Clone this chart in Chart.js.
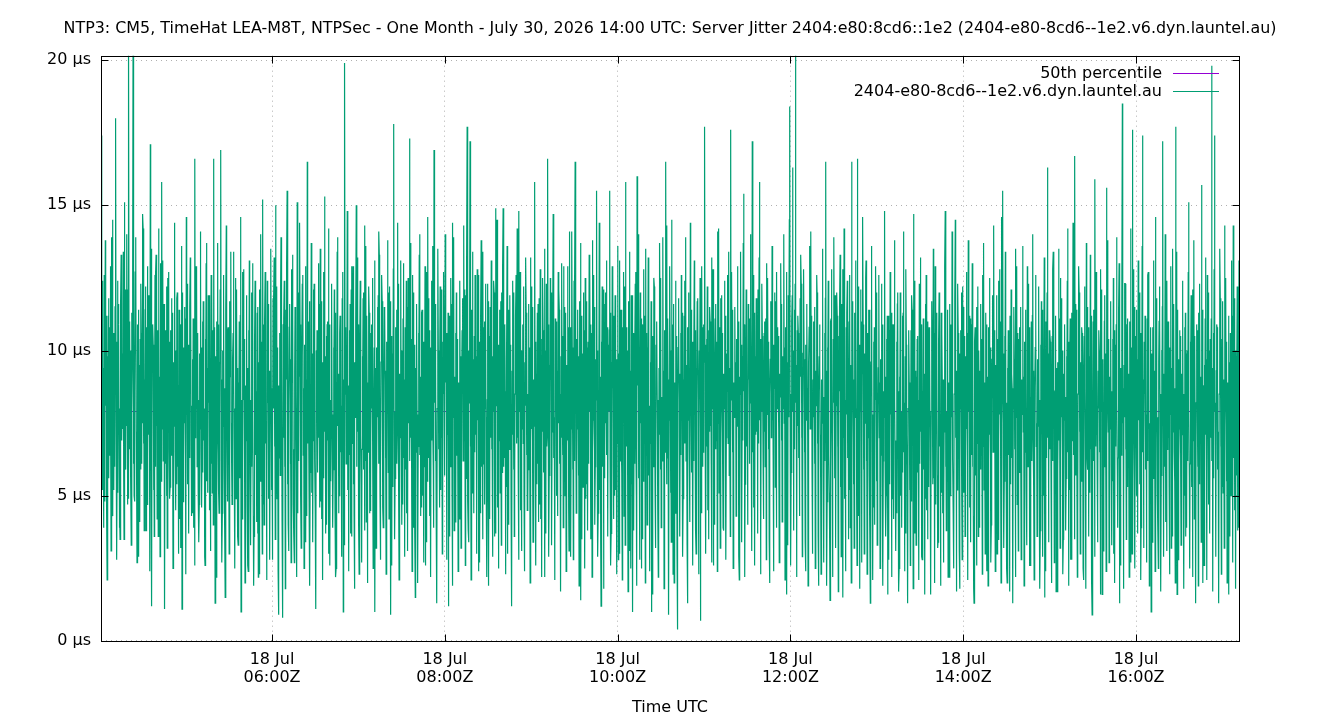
<!DOCTYPE html>
<html><head><meta charset="utf-8">
<script src="https://cdn.jsdelivr.net/npm/chart.js@4/dist/chart.umd.min.js"></script>
<style>html,body{margin:0;padding:0;background:#fff;}#wrap{width:1340px;height:720px;}</style>
</head><body><div id="wrap"><canvas id="c" width="1340" height="720"></canvas></div>
<script>
const titleText = "NTP3: CM5, TimeHat LEA-M8T, NTPSec - One Month - July 30, 2026 14:00 UTC: Server Jitter 2404:e80:8cd6::1e2 (2404-e80-8cd6--1e2.v6.dyn.launtel.au)";
const xAxisTitle = "Time UTC";
const seriesLabel = "2404-e80-8cd6--1e2.v6.dyn.launtel.au";
const medianLabel = "50th percentile";
const medianValue = 7.9;
// x = minutes since 18 Jul 00:00 UTC; first sample 04:01:30.
// jitterValues: samples at +0s, +15s, +30s of every minute (3 per minute)
// jitterValuesLate: the sample at +45s of every minute
const startMinute = 241.5;
const jitterValues = [
17.4,6.3,10.1,5.2,9.4,7.0,12.6,4.8,8.9,8.1,11.2,6.5,2.1,9.8,7.3,11.8,5.6,10.4,6.4,12.9,8.2,13.9,7.1,4.4,4.3,10.6,8.7,9.7,6.0,11.5,
18.0,7.6,10.3,6.8,12.4,5.1,10.9,8.0,3.9,3.5,9.2,11.7,12.2,6.9,8.5,7.3,13.4,5.8,15.1,8.8,6.2,5.9,10.5,7.4,9.4,4.7,12.1,20.5,8.3,6.6,
7.7,10.0,5.4,11.3,7.9,9.6,20.5,6.1,11.0,4.8,8.6,12.7,13.6,7.2,5.3,8.8,10.9,6.4,2.9,9.5,7.8,10.4,5.9,12.3,6.1,9.0,7.5,14.2,6.8,10.2,
9.0,5.7,11.4,3.8,10.8,7.0,12.9,6.3,9.3,7.1,11.9,4.6,17.1,8.2,6.7,1.2,9.7,10.5,10.2,5.2,8.0,8.4,12.6,6.0,13.3,7.4,9.9,5.6,10.7,3.6,
11.7,6.9,9.1,7.9,13.0,5.5,15.8,7.3,10.4,6.2,9.4,11.6,1.1,8.7,6.1,9.9,5.0,12.2,12.5,7.7,8.9,6.6,10.3,4.9,10.7,8.1,6.4,8.2,11.3,7.0,
4.6,9.6,7.4,13.1,6.5,10.0,9.3,5.4,11.8,6.0,8.8,7.1,11.4,4.2,9.0,3.2,10.6,6.8,1.1,8.4,12.0,10.1,6.2,8.6,7.5,11.1,5.3,14.6,7.8,9.5,
5.4,10.2,7.6,9.8,6.3,11.5,12.0,8.1,5.6,6.9,9.7,4.4,3.9,8.5,10.8,16.6,7.0,9.2,8.0,12.4,6.0,10.6,5.1,8.3,4.7,9.9,7.3,12.8,6.6,10.1,
7.2,11.0,5.8,9.1,6.9,8.0,2.6,10.4,7.5,13.7,5.5,9.4,6.5,11.9,8.2,10.3,4.5,7.7,8.6,12.6,6.1,5.1,9.3,10.7,16.6,6.8,8.8,1.3,9.8,7.0,
11.0,6.4,8.5,7.0,10.9,5.2,9.6,7.8,12.1,16.9,6.2,9.0,4.4,10.0,7.4,12.3,5.9,8.7,1.5,9.5,11.4,8.9,6.7,4.8,10.8,8.1,7.2,6.3,11.7,9.1,
13.4,7.5,5.9,5.0,9.7,10.6,9.2,6.6,8.0,7.6,12.5,4.9,11.9,7.1,9.4,3.3,8.9,6.5,10.0,5.6,11.2,1.0,8.3,7.0,12.7,6.1,9.8,8.3,10.4,5.3,
5.3,8.8,6.9,11.2,4.6,9.4,2.4,10.7,7.2,9.5,5.8,8.3,7.4,12.0,6.0,13.0,7.7,4.3,3.6,9.1,10.2,10.5,6.4,8.6,6.0,11.3,3.7,2.2,8.0,9.6,
12.1,5.5,7.9,7.8,10.3,6.2,15.2,8.4,4.7,4.0,9.9,11.1,9.0,6.8,7.5,5.7,12.4,8.2,11.6,4.9,9.3,2.8,7.6,10.5,8.7,5.2,6.6,6.4,11.8,8.0,
13.2,6.7,9.7,15.0,7.3,5.1,4.9,10.1,8.4,0.9,8.8,6.3,10.4,5.7,12.2,7.1,9.5,4.1,0.8,10.9,7.0,12.4,6.0,8.5,6.8,11.4,9.0,15.5,5.4,7.8,
3.1,8.2,10.8,9.7,6.1,7.4,5.5,12.8,8.9,11.1,4.7,6.6,2.7,9.3,11.5,8.5,5.9,7.2,15.1,8.0,4.4,6.2,10.6,9.1,10.9,6.9,5.0,4.5,9.8,12.3,
12.6,6.4,8.7,7.3,10.2,5.3,3.4,9.0,7.6,16.5,6.8,10.4,8.1,4.9,11.7,5.8,8.6,7.0,11.5,5.1,9.9,6.9,12.1,8.3,9.4,6.2,4.6,1.1,10.0,7.7,
10.6,5.8,8.4,7.0,11.6,6.3,13.5,8.0,4.8,4.2,9.6,7.5,9.1,12.7,5.6,15.3,7.2,9.8,6.5,10.5,4.0,11.0,6.9,8.2,3.0,9.4,10.9,8.3,5.5,7.1,
12.3,7.8,6.0,5.9,10.1,8.6,9.8,4.5,11.3,2.5,8.9,6.7,13.9,7.4,9.2,7.6,5.0,10.6,10.2,6.5,8.1,4.6,11.8,7.0,1.0,9.0,6.2,19.9,8.5,10.4,
6.1,9.3,7.3,11.8,5.2,8.8,8.0,10.7,6.4,3.7,9.5,12.1,12.9,6.8,7.9,5.4,10.0,4.3,9.6,7.7,11.0,15.0,6.0,8.4,7.2,10.9,5.7,2.3,8.6,9.9,
10.7,7.1,5.4,6.6,9.8,8.3,12.0,5.9,10.3,14.3,7.6,6.2,4.1,11.2,8.9,8.8,6.5,9.7,11.3,4.4,7.8,5.2,10.6,8.0,9.0,12.5,6.9,3.5,8.2,10.1,
1.0,7.9,9.4,10.1,5.6,8.5,7.7,11.9,6.1,13.3,8.7,5.0,6.0,9.6,10.8,11.7,7.0,4.6,4.8,8.9,11.5,9.3,6.3,7.5,2.9,10.3,8.1,8.6,5.8,12.0,
12.2,6.7,9.0,0.9,8.4,10.5,9.9,5.3,7.6,17.8,7.9,4.9,5.6,10.8,8.3,11.4,6.1,9.5,7.4,12.3,5.7,3.2,9.2,7.0,13.1,6.6,10.0,8.2,4.7,11.1,
6.3,9.0,7.7,10.8,5.9,8.1,4.4,11.5,6.8,12.5,7.5,9.9,17.3,6.2,8.7,7.0,10.4,5.1,9.5,12.6,7.3,3.9,8.6,10.2,1.5,9.4,6.5,11.6,7.8,5.4,
6.7,10.6,8.0,14.0,6.4,9.1,8.4,4.6,11.3,5.0,9.7,7.2,10.3,6.0,8.6,2.6,10.9,7.5,12.7,5.5,9.3,7.9,11.8,6.3,4.3,8.8,10.1,9.2,6.9,12.4,
13.6,7.4,5.9,16.9,8.2,10.7,6.2,9.5,4.5,1.3,8.0,11.0,10.0,6.6,7.8,8.7,12.2,5.2,12.1,7.0,9.4,4.9,10.3,8.5,9.7,5.7,6.8,13.0,8.9,10.6,
5.8,9.9,7.1,1.2,8.3,10.2,11.2,6.0,8.7,7.5,11.6,5.3,14.4,7.7,9.6,3.8,9.1,6.4,10.6,5.0,12.0,6.4,10.4,8.0,8.9,6.8,4.2,12.4,7.3,9.8,
4.0,8.6,10.7,9.4,6.2,7.5,6.9,12.1,8.8,11.9,5.6,9.3,17.7,7.0,4.8,3.4,10.0,8.2,17.2,6.7,9.0,8.0,11.4,5.1,5.3,9.7,7.4,10.5,6.5,12.6,
7.1,9.8,5.7,12.8,7.6,8.5,2.4,10.3,6.8,9.0,4.4,11.2,6.0,8.9,7.3,13.4,6.1,9.6,4.7,11.0,8.0,10.9,5.4,7.7,8.3,12.3,6.4,1.9,9.2,10.5,
11.5,7.0,8.4,6.6,10.6,5.2,9.8,7.9,12.4,3.6,9.0,6.3,14.9,8.1,10.0,7.4,4.6,9.5,10.2,6.9,8.6,5.1,11.7,7.2,12.0,5.8,9.1,14.9,7.5,6.0,
6.3,10.9,8.2,8.6,5.3,9.7,3.0,8.8,11.4,11.1,6.6,7.4,7.8,10.2,4.9,1.2,9.3,7.1,9.6,5.9,12.0,5.5,8.5,10.4,12.6,6.8,8.0,7.0,11.3,5.6,
14.8,7.9,9.4,4.5,10.5,6.2,10.0,7.3,8.7,6.8,12.2,5.0,2.7,9.6,8.1,11.3,6.4,10.8,8.5,4.8,7.6,5.9,10.1,9.0,13.2,6.9,8.3,7.3,11.5,5.5,
3.9,9.0,7.4,15.8,6.0,10.3,9.2,5.4,8.1,6.1,11.6,7.8,11.8,8.6,4.7,4.2,9.9,6.5,10.4,7.2,12.5,7.7,5.8,9.4,2.2,10.0,8.3,12.3,6.7,7.0,
16.6,8.4,10.9,5.7,9.5,6.9,9.0,12.0,5.2,7.2,8.0,10.6,13.0,6.3,7.7,3.3,11.1,8.8,10.7,5.0,9.3,6.5,12.7,7.5,11.4,6.1,8.5,1.7,9.8,7.0,
8.8,6.4,10.5,12.9,7.7,5.5,5.0,9.2,11.3,9.5,6.7,8.2,6.9,10.8,4.6,14.1,8.0,9.6,2.9,7.3,10.2,10.1,5.9,8.7,7.6,12.4,6.2,16.5,7.9,9.1,
4.6,10.4,7.3,8.4,5.7,9.8,11.7,6.6,8.0,1.4,9.4,11.2,9.9,7.0,5.3,6.2,10.7,8.6,12.5,7.4,4.9,5.4,9.0,10.1,10.3,6.1,7.8,7.9,12.8,8.4,
3.5,8.9,10.6,13.8,6.5,7.6,8.2,11.5,5.8,6.0,9.7,8.3,15.5,7.1,10.0,4.4,8.6,6.4,11.0,5.2,9.1,1.2,10.3,7.7,9.3,6.0,12.1,7.1,8.8,5.6,
12.0,7.5,9.0,6.4,10.8,5.5,10.2,7.9,8.4,15.5,6.3,11.3,3.7,9.6,7.1,8.7,12.6,6.0,11.2,5.0,8.2,5.2,10.1,7.4,9.7,6.8,11.0,2.8,8.5,9.9,
13.1,6.2,8.6,7.0,11.4,5.8,10.8,7.6,9.5,4.3,8.1,12.2,15.8,6.9,7.3,6.7,10.0,4.8,9.1,11.7,8.0,3.1,9.3,6.5,11.9,5.4,7.8,1.0,10.6,8.9,
8.0,6.1,9.9,12.7,7.2,5.0,16.0,8.8,10.4,5.6,9.1,6.6,9.4,12.0,7.5,2.5,8.3,10.9,10.6,5.5,7.0,7.3,11.2,8.6,13.5,6.4,9.2,4.0,10.1,7.7,
11.0,5.7,8.1,6.8,9.6,7.3,1.0,8.7,10.5,9.8,6.0,11.9,12.2,7.8,5.2,5.3,10.2,8.9,8.3,6.6,4.5,3.4,9.4,7.1,10.9,5.9,12.5,7.5,8.4,6.2,
13.9,7.4,9.3,4.8,10.7,6.5,16.5,8.0,5.4,6.3,11.1,9.0,0.9,7.6,10.3,10.0,5.1,8.5,14.5,7.0,6.1,2.3,9.7,11.6,8.9,6.7,4.4,6.0,10.5,8.2,
0.4,8.3,10.1,11.6,7.0,9.2,7.8,10.6,6.4,9.6,8.1,11.3,4.9,9.0,7.4,12.4,6.8,10.0,6.2,9.5,8.7,1.3,10.8,7.6,10.4,6.5,9.1,14.4,7.9,8.5,
5.8,10.3,8.0,8.6,6.2,9.8,11.3,7.5,10.7,3.0,9.4,8.2,9.2,11.8,6.9,7.1,10.0,8.8,0.7,9.1,7.3,12.9,8.4,6.0,6.5,10.9,9.6,17.7,7.7,10.2,
8.1,10.4,6.7,4.5,9.3,8.5,10.7,7.2,11.5,7.4,9.9,6.1,13.2,8.0,10.5,2.6,9.0,7.8,9.5,11.1,6.6,6.9,8.7,10.3,14.1,7.5,9.4,5.1,10.8,8.2,
11.8,7.1,9.7,8.4,10.6,6.4,3.8,9.2,8.0,10.1,7.6,11.2,7.0,9.9,8.6,12.6,6.8,10.0,5.7,9.4,7.3,17.6,8.3,10.7,9.0,6.5,11.4,4.2,8.9,7.7,
11.5,8.1,9.6,6.6,10.4,7.4,8.8,11.0,6.2,2.1,9.1,8.5,13.4,7.0,10.2,7.7,9.8,6.9,15.4,8.6,10.9,5.4,9.3,7.9,10.3,6.7,8.4,8.0,11.6,9.0,
6.1,9.5,8.2,11.0,7.4,10.1,17.2,8.6,6.5,4.6,9.9,11.3,9.8,7.1,8.0,7.2,10.7,9.2,12.1,6.8,8.8,15.8,7.6,10.4,3.4,9.0,7.9,10.5,8.3,6.3,
8.3,10.6,7.2,6.0,9.4,11.1,13.0,7.8,8.9,9.1,6.6,10.3,2.0,8.5,9.7,11.4,7.0,8.1,7.6,10.9,6.4,10.2,8.7,9.3,5.3,11.7,7.5,12.7,8.0,9.9,
8.9,10.5,7.3,4.1,9.2,8.4,10.8,6.9,11.6,6.7,9.8,8.0,14.0,7.5,10.1,7.9,10.8,6.2,1.6,8.8,9.6,11.9,7.7,10.3,18.4,8.5,6.8,5.8,9.4,11.0,
16.3,7.9,10.0,9.3,11.4,6.6,20.5,8.2,9.5,3.6,10.7,7.4,10.6,6.3,8.6,7.3,11.8,9.1,12.3,7.0,8.3,5.0,9.9,10.4,9.7,6.5,8.0,2.4,10.2,7.6,
11.1,8.7,6.9,6.4,9.6,10.8,13.6,7.3,8.4,8.2,11.2,5.9,4.4,9.0,7.7,10.0,6.1,11.5,7.0,9.3,8.1,12.0,6.8,10.3,1.9,8.6,9.8,9.4,7.1,5.5,
6.3,9.0,7.5,11.7,5.8,8.4,8.0,10.6,6.2,16.5,7.0,9.3,4.8,10.1,8.7,10.3,6.4,5.1,1.4,8.9,11.0,12.8,7.6,6.0,7.1,10.4,8.2,9.6,5.6,11.9,
3.2,8.1,9.8,11.2,6.7,7.4,6.0,10.5,8.6,13.3,5.3,9.1,8.5,11.6,6.9,1.5,9.4,7.0,10.1,4.9,8.3,5.5,10.8,7.8,12.4,6.3,9.6,7.7,11.0,5.2,
3.9,9.5,7.2,16.5,6.8,10.0,9.0,5.4,8.5,6.6,11.3,7.7,11.5,8.0,4.7,16.6,7.4,9.7,4.3,10.2,6.1,8.7,12.1,7.9,2.7,9.2,10.7,10.9,5.9,8.1,
6.9,9.9,7.5,13.1,6.2,8.8,5.2,10.6,7.0,9.3,5.7,11.4,1.3,8.4,9.6,11.8,6.5,7.8,7.4,10.3,4.6,4.0,9.0,8.3,10.4,5.5,12.0,8.1,6.8,9.4,
12.6,7.0,8.9,2.9,9.7,6.4,9.8,5.3,10.9,6.2,8.6,7.7,14.8,6.0,9.1,5.0,10.4,7.3,1.6,8.2,11.2,10.7,6.6,5.4,7.8,9.5,8.0,11.3,4.9,7.6,
4.2,7.8,9.4,8.4,5.6,6.9,6.1,10.3,4.4,12.0,7.3,8.6,2.5,9.1,6.2,9.6,5.0,7.9,7.0,11.2,5.8,14.1,6.5,8.2,5.3,9.8,3.7,10.2,7.1,6.0,
1.3,8.0,9.9,8.9,5.2,7.4,6.5,10.7,4.8,11.4,6.8,8.5,14.7,7.6,5.5,3.7,9.3,7.0,9.1,4.6,10.4,5.8,8.3,6.6,12.3,6.1,9.0,7.2,10.9,4.3,
2.8,8.6,7.3,10.5,5.9,9.2,6.8,11.6,4.9,4.5,8.8,7.6,11.0,6.2,5.3,8.2,10.0,6.9,1.6,7.9,9.5,9.4,5.4,8.1,5.6,10.6,7.0,12.9,6.4,4.7,
7.5,9.6,5.7,3.4,8.3,10.2,10.0,6.7,7.8,6.3,11.3,5.1,8.6,4.4,9.0,4.1,7.2,10.8,14.8,6.0,8.4,7.9,5.5,9.7,2.2,8.9,6.6,11.6,7.4,5.0,
5.9,10.1,7.7,9.0,6.3,4.6,3.1,8.5,11.0,14.5,7.0,9.3,6.7,5.2,8.7,10.6,6.5,7.5,1.8,9.9,8.0,8.3,12.0,5.8,12.2,6.9,9.4,5.1,8.2,10.5,
9.8,6.1,8.4,7.3,10.6,5.5,13.8,7.9,9.2,4.6,8.7,11.1,10.9,6.4,7.1,6.0,9.5,4.3,1.3,8.1,10.3,8.8,5.7,7.6,11.5,6.8,9.0,3.6,10.0,8.5,
9.3,7.4,5.9,6.4,10.4,8.2,12.6,6.7,9.6,5.2,8.9,7.0,8.0,11.3,5.0,2.4,9.1,7.7,10.8,6.2,8.5,7.1,10.1,5.6,4.0,8.3,9.7,11.9,6.5,7.3,
6.6,10.7,8.0,9.5,5.3,7.2,3.0,8.6,10.4,12.4,6.9,9.3,7.8,11.0,5.8,14.6,7.5,8.8,15.5,6.3,9.9,5.5,10.5,7.0,10.1,6.0,8.2,2.0,9.4,7.6,
8.5,6.4,10.0,11.2,7.9,5.4,6.3,9.2,8.7,1.3,8.0,10.9,9.7,6.6,7.3,13.5,7.7,9.5,4.7,10.6,6.1,10.4,5.8,8.4,7.4,11.5,6.9,3.3,9.0,7.8,
11.6,7.2,9.1,5.8,10.3,6.5,8.9,5.1,7.9,12.9,8.2,6.0,6.8,9.6,10.8,2.6,8.4,7.0,9.9,6.2,11.2,7.0,9.3,5.5,4.4,8.7,10.1,10.7,6.7,7.5,
6.1,9.7,7.4,12.2,5.6,8.3,3.8,10.2,6.8,9.2,7.1,11.4,7.6,5.0,8.9,1.5,9.3,7.8,11.0,6.3,8.6,16.3,7.0,9.9,5.4,10.7,6.6,10.3,8.0,5.2,
8.0,10.5,6.2,13.4,7.5,9.0,4.9,8.6,10.8,1.7,7.3,9.4,9.6,5.9,8.1,6.9,11.1,7.0,12.5,6.4,8.8,7.7,10.0,5.3,3.5,9.2,7.6,10.9,6.7,8.4,
5.6,9.8,7.1,14.2,6.5,10.3,8.4,5.2,9.5,2.8,8.8,7.4,11.3,6.9,10.1,6.4,9.0,8.2,16.7,7.6,5.7,9.0,11.4,6.3,4.3,8.5,10.6,12.0,7.2,9.3,
7.3,9.6,5.5,10.6,7.8,8.4,2.1,9.1,10.5,8.7,6.0,7.5,13.7,8.3,6.4,5.9,10.8,9.2,9.8,7.0,5.1,6.6,9.4,11.2,0.9,8.1,7.7,11.4,6.2,9.0,
15.9,8.6,6.7,7.1,10.2,5.8,4.6,9.3,8.0,10.0,6.5,7.3,12.8,7.9,10.6,1.6,8.4,9.7,8.2,5.4,11.0,6.0,9.9,7.6,15.6,6.8,8.9,9.5,7.2,10.4,
5.2,9.1,7.3,11.7,6.0,8.6,7.8,10.4,5.5,3.0,8.9,10.7,10.2,6.7,7.9,13.9,8.2,5.9,6.3,9.8,11.3,1.3,8.0,7.0,9.4,6.4,10.0,18.5,7.5,8.7,
4.4,9.5,7.7,12.3,6.6,8.4,8.1,10.9,5.3,6.0,9.2,7.4,11.0,5.8,8.8,2.7,10.1,6.9,17.6,8.3,9.6,7.2,5.6,11.5,10.5,7.0,8.0,5.0,9.7,6.3,
13.1,7.6,9.4,8.8,5.4,10.6,3.9,8.2,7.1,17.4,6.5,9.0,6.7,10.3,8.5,9.9,5.9,7.8,4.8,11.1,6.2,12.7,7.3,9.7,7.5,5.2,8.6,1.0,9.9,7.0,
10.8,7.4,5.6,6.2,9.3,8.0,14.6,6.9,10.4,8.3,5.1,7.7,2.5,9.6,11.0,11.2,7.1,8.5,5.7,10.0,6.3,17.2,8.1,9.2,9.1,6.0,7.5,4.1,10.7,8.8,
12.4,6.6,9.0,7.0,10.9,5.3,10.1,7.8,8.3,3.2,9.4,6.8,13.5,7.2,10.2,6.5,8.7,5.5,17.7,7.6,9.8,1.6,8.9,11.4,9.7,6.1,7.3,8.0,10.5,5.9,
5.5,9.2,7.1,11.6,6.4,8.5,7.4,10.8,5.0,3.6,8.6,9.9,10.0,6.2,7.6,15.1,8.0,5.7,6.1,10.3,8.9,9.2,5.3,7.4,12.1,6.9,9.6,4.2,10.5,7.9,
1.3,8.2,9.8,8.6,6.0,10.7,11.3,7.3,5.4,6.8,9.1,8.0,15.7,6.6,10.2,2.0,8.8,7.5,9.5,5.8,11.1,7.1,9.7,6.3,12.6,7.8,8.4,4.7,10.0,6.9,
10.4,7.0,8.7,19.8,6.2,9.4,6.4,10.6,5.6,17.4,7.9,8.2,3.3,9.3,10.9,9.0,5.9,7.2,1.3,8.5,10.1,11.8,6.7,7.6,7.7,10.4,5.3,5.1,9.0,8.0,
14.3,7.4,9.5,8.4,5.5,10.3,2.6,8.9,7.0,1.6,9.6,6.5,10.6,7.8,5.0,6.0,11.2,8.3,14.3,6.3,9.1,4.5,10.0,7.2,9.8,5.7,8.6,3.8,4.6,6.2,
13.1
];
const jitterValuesLate = [
12.4,3.9,13.8,4.6,11.2,10.8,3.1,14.5,5.2,12.9,2.8,11.6,4.4,13.3,9.9,3.5,12.1,14.0,4.9,11.0,
3.3,12.8,5.0,13.9,2.7,11.4,4.1,10.6,14.7,3.8,12.2,4.7,11.9,2.4,13.5,10.9,3.6,12.6,4.2,14.2,
2.9,11.3,13.1,4.0,10.7,3.2,12.7,5.3,11.8,2.5,14.4,4.5,12.0,3.0,10.9,13.6,4.8,11.5,2.3,12.3,
3.7,13.2,4.3,11.1,2.6,12.9,10.5,3.4,14.1,4.6,11.7,2.9,13.0,5.1,11.9,3.1,12.5,4.0,10.8,2.2,
13.7,4.4,11.4,2.7,12.6,3.9,14.3,10.6,3.0,11.2,4.7,13.4,2.5,12.1,3.6,11.0,14.6,4.2,12.8,2.0,
11.9,2.6,13.1,3.3,10.7,1.9,12.4,4.1,11.5,2.3,14.0,3.0,10.9,12.7,2.1,11.3,3.8,13.5,2.8,11.8,
3.5,12.2,2.4,10.6,13.9,3.1,11.1,1.8,12.8,4.0,11.6,2.7,13.3,3.6,10.8,2.2,12.0,14.4,3.2,11.4,
2.5,12.9,4.3,11.0,1.9,13.7,3.4,12.3,2.8,10.7,13.0,4.6,11.7,2.1,12.5,3.7,10.9,14.2,2.6,11.9,
3.9,12.1,2.2,13.4,4.4,11.2,2.9,12.7,3.3,10.8,14.8,2.4,11.6,3.6,12.9,1.8,11.0,13.2,4.1,12.4,
2.7,11.8,3.8,13.6,2.0,12.2,4.5,10.9,2.5,13.1,3.2,11.5,14.1,2.8,12.6,3.9,11.3,2.3,13.8,4.2,
11.7,2.6,12.8,3.5,10.6,14.4,2.1,11.9,4.0,13.0,2.9,12.4,3.1,11.1,13.7,2.4,12.0,3.7,10.8,2.0,
13.3,4.3,11.4,2.7,12.9,3.4,14.6,10.7,2.2,12.3,3.9,11.6,2.5,13.5,4.6,11.0,3.0,12.7,14.0,2.8,
11.3,3.6,12.5,1.9,13.9,4.1,10.9,2.4,12.1,3.2,11.8,14.3,2.6,12.9,3.8,11.5,2.1,13.4,4.4,11.1,
3.0,12.6,2.7,13.8,3.5,10.8,12.3,2.2,11.7,4.2,13.1,2.9,12.0,3.7,14.5,2.5,11.4,3.3,12.8,10.6,
2.3,13.6,4.0,11.9,1.8,12.4,3.6,11.2,14.2,2.8,12.7,3.1,10.9,2.4,13.2,4.5,11.6,2.0,12.2,3.4,
13.9,2.6,11.3,4.1,12.8,2.2,10.7,13.5,3.7,11.8,2.9,12.5,3.3,14.7,2.1,11.0,4.3,12.1,2.7,13.0,
3.9,11.5,2.4,12.9,3.1,10.8,14.1,2.8,12.3,4.4,11.4,1.9,13.7,3.5,12.0,2.5,11.7,3.8,13.3,10.9,
2.2,12.6,4.0,11.2,2.9,14.4,3.4,12.2,1.8,11.6,13.1,3.6,10.7,2.6,12.9,4.2,11.9,2.3,13.6,3.0,
11.4,2.1,12.7,3.3,10.8,1.7,13.4,2.5,11.9,3.8,12.3,1.9,14.0,2.8,11.1,3.5,12.8,2.0,10.6,13.2,
2.4,11.7,1.6,12.5,3.2,11.0,2.2,13.7,3.9,12.1,1.8,11.5,14.3,2.7,12.9,3.4,10.9,2.0,12.4,3.1,
11.8,3.6,12.6,2.9,11.2,13.9,3.3,12.0,4.1,11.4,2.6,13.1,3.8,11.7,2.3,12.5,4.4,10.8,13.6,3.0,
12.2,3.5,11.0,2.7,12.8,4.0,11.6,2.4,14.2,3.2,11.9,3.9,12.4,2.8,10.9,13.4,3.6,12.7,2.5,11.3,
4.3,12.9,2.9,11.5,3.4,13.7,2.2,12.1,4.0,11.1,14.0,3.1,12.6,2.6,11.8,3.7,13.2,2.3,12.3,4.2,
11.0,2.8,12.5,3.5,11.7,13.6,2.4,12.0,3.9,10.8,2.7,13.0,4.1,11.4,2.1,12.7,3.3,14.5,2.6,11.9,
3.8,12.3,2.2,11.2,4.3,13.3,2.9,12.8,3.4,11.6,1.9,12.1,14.1,3.0,11.0,2.5,12.6,3.6,10.9,2.3,
13.5,2.7,11.8,1.9,12.4,3.4,11.1,2.2,13.9,3.8,12.0,1.7,11.5,2.9,12.8,14.2,2.4,11.3,3.5,12.6,
2.0,11.7,3.2,13.1,2.6,12.2,1.8,11.0,14.6,3.0,12.5,2.3,11.4,3.7,13.6,2.1,10.8,12.9,3.3,11.9,
2.5,12.3,1.9,13.4,3.6,11.2,2.8,12.7,2.2,10.9,13.8,3.1,11.6,1.7,12.0,3.9,11.3,2.4,12.8,3.0,
10.7,2.6,11.9,1.8,12.4,3.3,10.5,2.1,13.2,2.9,11.1,1.6,12.6,3.5,10.8,2.3,11.7,13.5,2.0,11.3,
3.2,12.0,1.9,10.6,2.7,12.9,3.8,11.4,2.2,10.9,14.1,2.5,11.8,1.7,12.3,3.1,10.7,2.8,11.5,3.6,
12.7,2.1,11.2,3.4,13.0,1.8,10.8,2.6,12.2,3.9,11.6,2.3,13.7,3.0,10.9,1.9,12.5,2.7,11.0,14.3,
2.4,11.9,3.5,12.8,2.0,11.3,3.2,13.4,2.5,10.7,1.7,12.1,3.7,11.5,2.2,12.9,3.1,10.8,2.8,13.6,
1.9,11.4,3.3,12.3,2.6,11.0,14.0,2.1,12.6,3.6,10.9,1.8,11.7,2.9,13.2,2.4,12.0,3.4,10.6,2.0,
12.8,2.7,11.2,1.7,13.5,3.2,11.8,2.3,10.9,3.8,12.4,1.9,11.1,2.8,14.4,3.5,11.6,2.2,12.9,3.0,
10.8,2.5,12.2,1.8,11.5,3.6,13.3,2.1,11.0,2.9,12.7,3.4,10.7,1.6,12.1,3.1,11.9,2.4,13.8,2.7,
11.3,3.3,12.5,2.0,10.9,3.9,13.0,2.6,11.7,1.8,12.3,3.5,11.1,2.2,14.2,3.0,12.8,2.5,11.4,3.7,
12.0,2.1,13.6,3.2,11.2,2.7,12.6,1.9,10.8,3.4,13.1,2.4,11.8,3.8,12.2,1.7,11.5,2.9,14.0,3.1,
11.0,2.3,12.9,3.6,11.6,2.0,13.4,2.8,10.7,3.3,12.4,1.8,11.3,3.9,12.7,2.5,11.9,2.2,13.8,3.0,
10.9,1.9,12.3,3.4,11.4,2.6,13.2,2.1,12.0,3.7,11.1,1.7,12.8,2.9,10.8,3.5,13.5,2.3,11.7,3.2,
12.5,2.0,11.2,3.6,13.1,2.7,11.8,1.8,12.2,3.9
];
const xMin = 241.25, xMax = 1031.5;
const yMin = 0, yMax = 20.15;
const xTickMinutes = [360, 480, 600, 720, 840, 960];
const xTickDates = ["18 Jul", "18 Jul", "18 Jul", "18 Jul", "18 Jul", "18 Jul"];
const xTickTimes = ["06:00Z", "08:00Z", "10:00Z", "12:00Z", "14:00Z", "16:00Z"];
const yTickValues = [0, 5, 10, 15, 20];
const yTickLabels = ["0 µs", "5 µs", "10 µs", "15 µs", "20 µs"];

const seriesColor = "#009e73";
const medianColor = "#9400d3";
const FONT = "DejaVu Sans";
const FS = 16;

const jitterPoints = [];
jitterValues.forEach((v, i) => jitterPoints.push({x: startMinute + Math.floor(i / 3) + (i % 3) * 0.25, y: v}));
jitterValuesLate.forEach((v, j) => jitterPoints.push({x: startMinute + j + 0.75, y: v}));
jitterPoints.sort((a, b) => a.x - b.x);
const medianPoints = [{x: xMin, y: medianValue}, {x: xMax, y: medianValue}];

const framePlugin = {
  id: 'frame',
  afterDatasetsDraw(chart) {
    const {ctx, chartArea: {left, right, top, bottom}, scales: {x, y}} = chart;
    const L = Math.round(left) + 0.5, R = Math.round(right) + 0.5, T = Math.round(top) + 0.5, B = Math.round(bottom) + 0.5;
    ctx.save();
    ctx.strokeStyle = '#000';
    ctx.lineWidth = 1;
    ctx.beginPath();
    xTickMinutes.forEach(v => {
      const px = Math.round(x.getPixelForValue(v)) + 0.5;
      ctx.moveTo(px, B); ctx.lineTo(px, B - 7);
      ctx.moveTo(px, T); ctx.lineTo(px, T + 7);
    });
    yTickValues.forEach(v => {
      const py = Math.round(y.getPixelForValue(v)) + 0.5;
      ctx.moveTo(L, py); ctx.lineTo(L + 7, py);
      ctx.moveTo(R, py); ctx.lineTo(R - 7, py);
    });
    ctx.stroke();
    ctx.strokeRect(L, T, R - L, B - T);
    const items = [[medianLabel, medianColor], [seriesLabel, seriesColor]];
    ctx.font = FS + 'px "' + FONT + '"';
    ctx.textAlign = 'right';
    ctx.textBaseline = 'middle';
    items.forEach((it, i) => {
      const yy = 73.5 + i * 18;
      ctx.fillStyle = '#000';
      ctx.fillText(it[0], 1162, yy);
      ctx.strokeStyle = it[1];
      ctx.beginPath(); ctx.moveTo(1173, yy); ctx.lineTo(1219, yy); ctx.stroke();
    });
    ctx.restore();
  }
};

new Chart(document.getElementById('c'), {
  type: 'line',
  data: {
    datasets: [
      {label: medianLabel, data: medianPoints, borderColor: medianColor, borderWidth: 1, pointRadius: 0, order: 1, tension: 0},
      {label: seriesLabel, data: jitterPoints, borderColor: seriesColor, borderWidth: 1.2, pointRadius: 0, order: 0, tension: 0}
    ]
  },
  options: {
    responsive: false,
    animation: false,
    devicePixelRatio: 1,
    events: [],
    layout: {padding: {left: 0, right: 0, top: 0, bottom: 0}},
    plugins: {
      legend: {display: false},
      tooltip: {enabled: false},
      title: {display: true, text: titleText, color: '#000', font: {family: FONT, size: 15.9, weight: 'normal'}, padding: {top: 19, bottom: 17.6}}
    },
    scales: {
      x: {
        type: 'linear', min: xMin, max: xMax,
        afterBuildTicks: s => { s.ticks = xTickMinutes.map(v => ({value: v})); },
        afterFit: s => { s.height = 79; },
        grid: {color: '#b0b0b0', lineWidth: 1, drawTicks: false},
        border: {display: false, dash: [1, 4]},
        ticks: {
          color: '#000', font: {family: FONT, size: FS, lineHeight: 1.175}, padding: 9, maxRotation: 0, autoSkip: false,
          callback: v => { const i = xTickMinutes.indexOf(v); return i < 0 ? '' : [xTickDates[i], xTickTimes[i]]; }
        },
        title: {display: true, text: xAxisTitle, color: '#000', font: {family: FONT, size: FS}, padding: {top: 0, bottom: 3}}
      },
      y: {
        type: 'linear', min: yMin, max: yMax,
        afterBuildTicks: s => { s.ticks = yTickValues.map(v => ({value: v})); },
        afterFit: s => { s.width = 101; },
        grid: {color: '#b0b0b0', lineWidth: 1, drawTicks: false},
        border: {display: false, dash: [1, 4]},
        ticks: {
          color: '#000', font: {family: FONT, size: FS}, padding: 10,
          callback: v => { const i = yTickValues.indexOf(v); return i < 0 ? '' : yTickLabels[i]; }
        }
      },
      yRight: {
        type: 'linear', position: 'right', display: true, min: yMin, max: yMax,
        afterFit: s => { s.width = 101; },
        grid: {display: false, drawTicks: false},
        border: {display: false},
        ticks: {display: false}
      }
    }
  },
  plugins: [framePlugin]
});
</script></body></html>
